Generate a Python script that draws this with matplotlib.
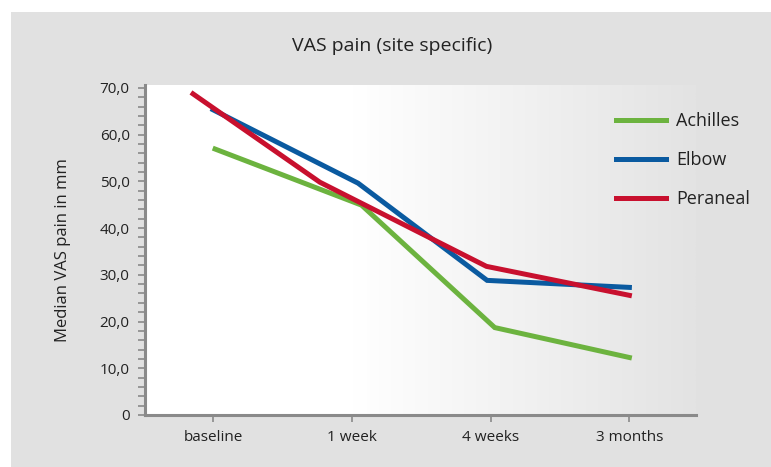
import numpy as np
import matplotlib.pyplot as plt
from matplotlib.colors import LinearSegmentedColormap
from matplotlib.patches import Rectangle
from matplotlib.ticker import MultipleLocator, FixedLocator

plt.rcParams['font.family'] = ['Open Sans', 'DejaVu Sans']

# ================
# Data
# ================
categories = ['baseline', '1 week', '4 weeks', '3 months']

achilles_x = [0.015, 1.07, 2.03, 3.0]
achilles_y = [56.9, 44.9, 18.7, 12.3]

elbow_x = [0.0, 1.045, 1.975, 3.0]
elbow_y = [65.3, 49.6, 28.8, 27.3]

peraneal_x = [-0.144, 0.77, 1.97, 3.0]
peraneal_y = [68.7, 49.8, 31.8, 25.6]

y_ticks = [0, 10, 20, 30, 40, 50, 60, 70]
y_tick_labels = ['0', '10,0', '20,0', '30,0', '40,0', '50,0', '60,0', '70,0']

GREEN = '#6cb33f'
BLUE = '#0a5aa0'
RED = '#c8102e'
AXIS_GREY = '#8a8a8a'
TEXT = '#222222'

# ================
# Figure
# ================
fig = plt.figure(figsize=(7.71, 4.67), dpi=100)
fig.patch.set_facecolor('white')

# grey panel behind everything
fig.patches.append(Rectangle((11 / 771, 0), 1 - 11 / 771, 1 - 12 / 467,
                             transform=fig.transFigure, facecolor='#e1e1e1',
                             edgecolor='none', zorder=-10))

ax = fig.add_axes([145 / 771, 1 - 415 / 467, (696 - 145) / 771, (415 - 85) / 467])
ax.set_facecolor('none')

# horizontal gradient in plot area: white -> light grey
cmap = LinearSegmentedColormap.from_list(
    'bg', [(0.0, '#ffffff'), (0.38, '#ffffff'), (1.0, '#e3e3e3')])
grad = np.linspace(0, 1, 256).reshape(1, -1)
ax.imshow(grad, cmap=cmap, aspect='auto', extent=[0, 1, 0, 1],
          transform=ax.transAxes, zorder=0, interpolation='bilinear')

lw = 3.6
ax.plot(achilles_x, achilles_y, color=GREEN, lw=lw, label='Achilles',
        solid_joinstyle='miter', zorder=3)
ax.plot(elbow_x, elbow_y, color=BLUE, lw=lw, label='Elbow',
        solid_joinstyle='miter', zorder=3)
ax.plot(peraneal_x, peraneal_y, color=RED, lw=lw, label='Peraneal',
        solid_joinstyle='miter', zorder=4)

ax.set_xlim(-0.49, 3.48)
ax.set_ylim(0, 70.6)

ax.xaxis.set_major_locator(FixedLocator(range(len(categories))))
ax.set_xticklabels(categories)
ax.set_yticks(y_ticks)
ax.set_yticklabels(y_tick_labels)
ax.yaxis.set_minor_locator(MultipleLocator(2))

ax.tick_params(axis='both', which='both', colors=AXIS_GREY, labelcolor=TEXT,
               labelsize=11, direction='out')
ax.tick_params(axis='y', which='both', length=5, width=1.2, pad=6)
ax.tick_params(axis='x', which='major', length=5, width=1.2, pad=6)

for side in ['top', 'right']:
    ax.spines[side].set_visible(False)
for side in ['left', 'bottom']:
    ax.spines[side].set_color(AXIS_GREY)
    ax.spines[side].set_linewidth(2.2)

ax.set_ylabel('Median VAS pain in mm', fontsize=12, color=TEXT, labelpad=21)

fig.text(392 / 771, 1 - 46 / 467, 'VAS pain (site specific)', ha='center',
         va='center', fontsize=14, color=TEXT)

leg = ax.legend(loc='upper left', bbox_to_anchor=(0.855, 0.917), frameon=False,
                fontsize=13, handlelength=2.78, handletextpad=0.55,
                labelspacing=1.15, borderaxespad=0, borderpad=0)
for t in leg.get_texts():
    t.set_color(TEXT)

plt.savefig('out.png', dpi=100)
